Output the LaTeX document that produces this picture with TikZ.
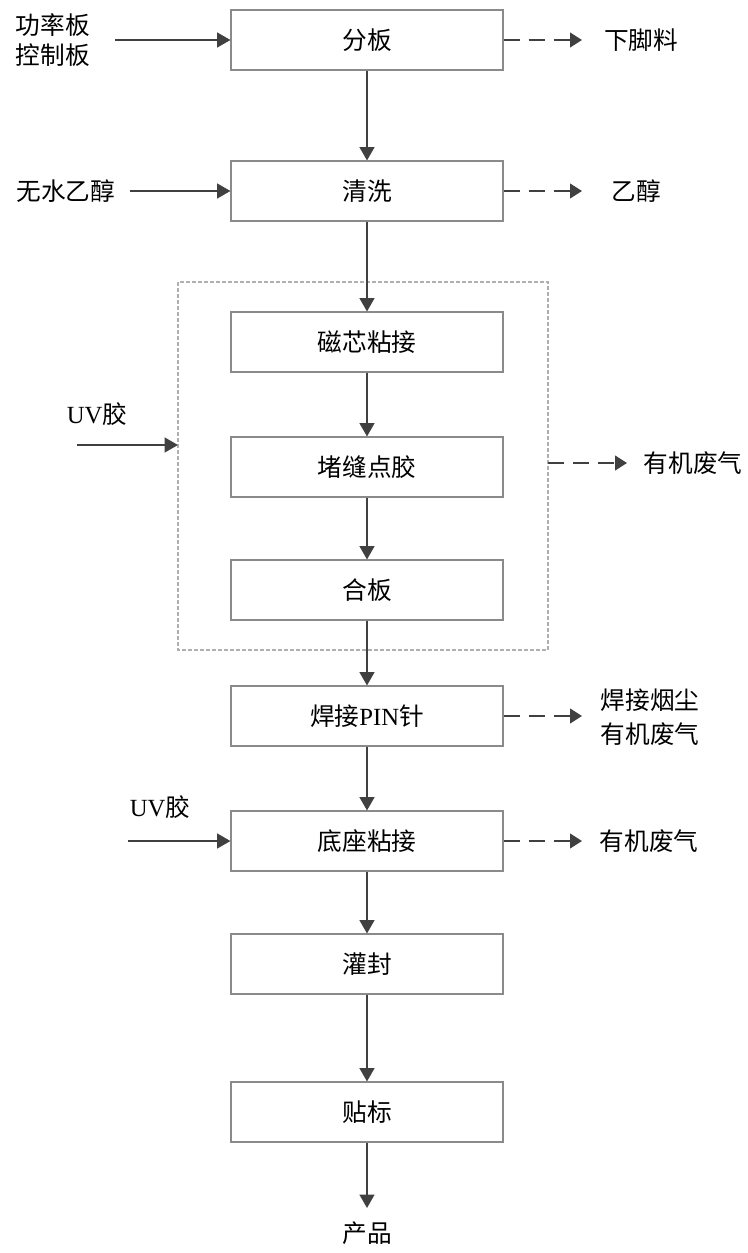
\documentclass[tikz,border=0pt]{standalone}
\usepackage{fontspec}
\setmainfont{Liberation Serif}
\newfontfamily\cjk{Noto Sans CJK SC}
\usetikzlibrary{arrows.meta}
\definecolor{arrowc}{HTML}{404040}
\definecolor{boxc}{HTML}{8A8A8A}
\definecolor{dashc}{HTML}{B0B0B0}
\tikzset{
  procbox/.style={draw=boxc, line width=0.8pt, minimum width=204pt, minimum height=45pt, inner sep=0pt, font=\cjk\fontsize{18.5}{22}\selectfont, text=black},
  lbl/.style={inner sep=0pt, font=\cjk\fontsize{18.5}{22}\selectfont, text=black, align=center},
  flow/.style={draw=arrowc, line width=1.7pt, -{Triangle[length=10pt,width=11pt]}},
  waste/.style={draw=arrowc, line width=1.7pt, dash pattern=on 12pt off 6.75pt, -{Triangle[length=9pt,width=11pt]}},
  grp/.style={draw=dashc, line width=0.8pt, dash pattern=on 3pt off 1.5pt}
}
\begin{document}
\begin{tikzpicture}[x=0.75pt,y=-0.75pt]
\useasboundingbox (0,0) rectangle (747,1253);
\draw[grp] (178,282) rectangle (548,650);
\coordinate (grpW) at (178,445);
\coordinate (grpE) at (548,463);

\node[procbox] (fb) at (367,40) {分板};
\node[procbox] (qx) at (367,191) {清洗};
\node[procbox] (cx) at (367,342) {磁芯粘接};
\node[procbox] (df) at (367,467) {堵缝点胶};
\node[procbox] (hb) at (367,590) {合板};
\node[procbox] (hj) at (367,716) {焊接{\fontspec{Liberation Serif}PIN}针};
\node[procbox] (dz) at (367,841) {底座粘接};
\node[procbox] (gf) at (367,964) {灌封};
\node[procbox] (tb) at (367,1112) {贴标};
\node[lbl] (cp) at (367,1233) {产品};
\coordinate (cpN) at (367,1208);

% inputs
\node[lbl, font=\cjk\fontsize{18.5}{22.5}\selectfont] (in1) at (53,40) {功率板\\控制板};
\coordinate (in1s) at (115,40);
\node[lbl] (in2) at (66,191) {无水乙醇};
\coordinate (in2s) at (130,191);
\node[lbl] (in3) at (97,414) {{\fontspec{Liberation Serif}UV}胶};
\coordinate (in3s) at (77,445);
\node[lbl] (in4) at (160,807) {{\fontspec{Liberation Serif}UV}胶};
\coordinate (in4s) at (128,841);

% outputs
\coordinate (o1e) at (582,40);
\node[lbl] (o1) at (641,40) {下脚料};
\coordinate (o2e) at (582,191);
\node[lbl] (o2) at (636,191) {乙醇};
\coordinate (o3e) at (627,463);
\node[lbl] (o3) at (693,463) {有机废气};
\coordinate (o4e) at (582,716);
\node[lbl, font=\cjk\fontsize{18.5}{25.5}\selectfont] (o4) at (650,717) {焊接烟尘\\有机废气};
\coordinate (o5e) at (582,841);
\node[lbl] (o5) at (649,841) {有机废气};

% main flow
\draw[flow] (fb) -- (qx);
\draw[flow] (qx) -- (cx);
\draw[flow] (cx) -- (df);
\draw[flow] (df) -- (hb);
\draw[flow] (hb) -- (hj);
\draw[flow] (hj) -- (dz);
\draw[flow] (dz) -- (gf);
\draw[flow] (gf) -- (tb);
\draw[flow] (tb) -- (cpN);

% input arrows
\draw[flow] (in1s) -- (fb.west);
\draw[flow] (in2s) -- (qx.west);
\draw[flow] (in3s) -- (grpW);
\draw[flow] (in4s) -- (dz.west);

% waste arrows
\draw[waste] (fb.east) -- (o1e);
\draw[waste] (qx.east) -- (o2e);
\draw[waste] (grpE) -- (o3e);
\draw[waste] (hj.east) -- (o4e);
\draw[waste] (dz.east) -- (o5e);
\end{tikzpicture}
\end{document}
